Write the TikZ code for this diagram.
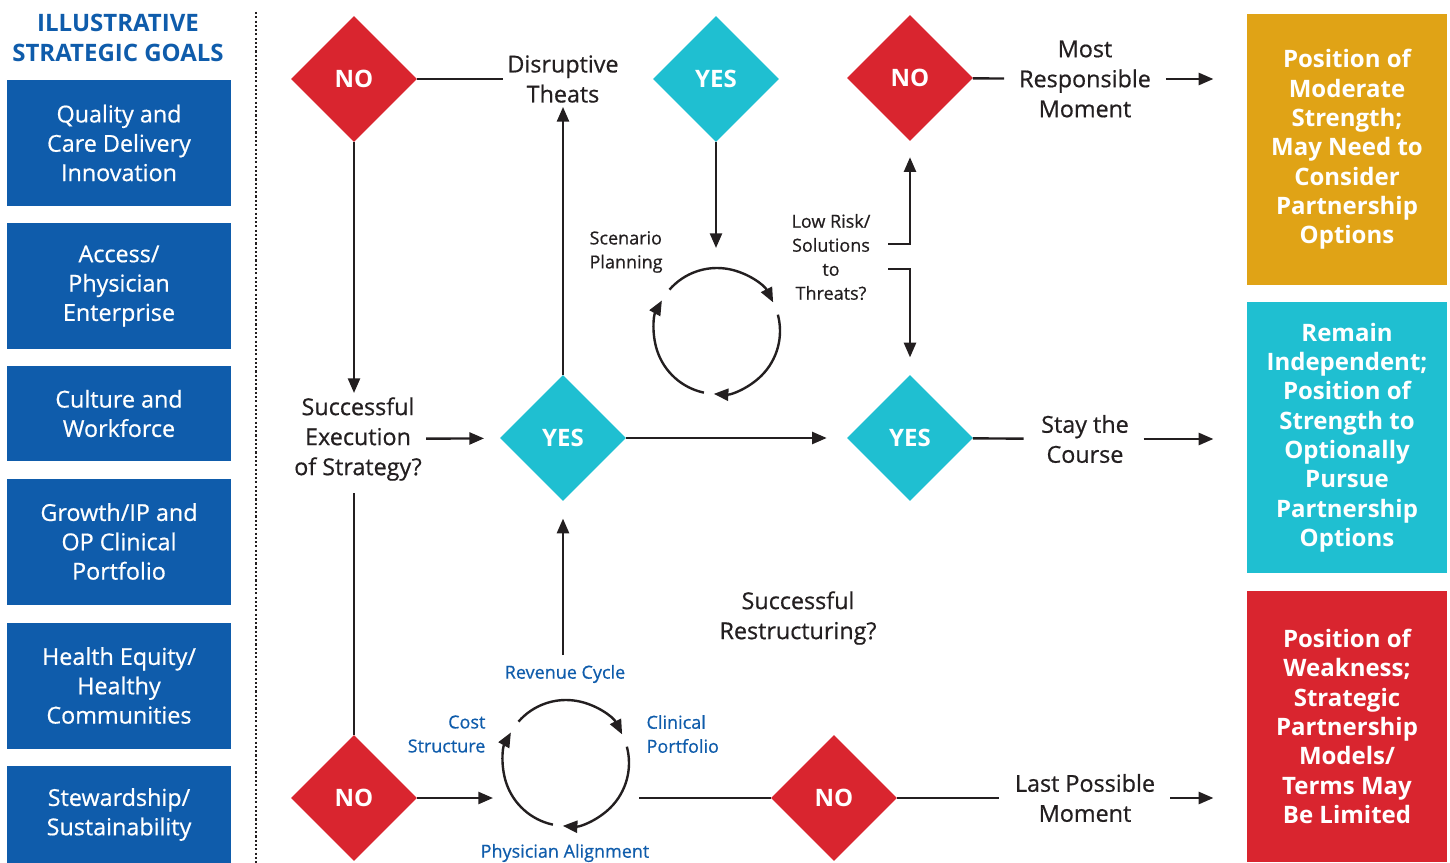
\documentclass[tikz,border=0pt]{standalone}
\usepackage{fontspec}
\setmainfont{Open Sans}[UprightFeatures={FakeBold=0.6}]
\usetikzlibrary{shapes.geometric,arrows.meta,calc}
\definecolor{goalblue}{HTML}{0F5CAB}
\definecolor{noRed}{HTML}{D9252F}
\definecolor{yesCyan}{HTML}{1FBFD1}
\definecolor{modGold}{HTML}{E0A316}
\definecolor{inkgray}{HTML}{231F20}
\tikzset{
  every node/.style={text=inkgray},
  goalhead/.style={text=goalblue, align=center, font=\bfseries\fontsize{18}{22}\selectfont},
  goal/.style={fill=goalblue, text=white, minimum width=168pt, minimum height=94.5pt,
    align=center, inner sep=0pt, font=\fontsize{17.5}{22}\selectfont},
  outcome/.style={text=white, minimum width=150pt, minimum height=203.25pt,
    align=center, inner sep=0pt, font=\bfseries\fontsize{18}{22}\selectfont},
  nobox/.style={diamond, aspect=1, fill=noRed, text=white, minimum width=94.5pt,
    minimum height=94.5pt, inner sep=0pt, font=\bfseries\fontsize{18}{22}\selectfont},
  yesbox/.style={nobox, fill=yesCyan},
  flowtext/.style={align=center, inner sep=3pt, font=\fontsize{17.5}{22.5}\selectfont},
  smalltext/.style={align=center, inner sep=1pt, font=\fontsize{13.5}{18}\selectfont},
  cyclab/.style={smalltext, text=goalblue},
  line/.style={draw=inkgray, line width=1.8pt},
  arrow/.style={line, -{Triangle[length=11pt,width=9pt]}}
}

\begin{document}
\begin{tikzpicture}[x=0.75pt,y=0.75pt]
  \useasboundingbox (0,0) rectangle (1450,-863);

  % strategic goals column
  \node[goalhead] (head) at (118,-38) {ILLUSTRATIVE\\STRATEGIC GOALS};
  \node[goal] (g1) at (119,-143) {Quality and\\Care Delivery\\Innovation};
  \node[goal] (g2) at (119,-286) {Access/\\Physician\\Enterprise};
  \node[goal, minimum height=71.25pt] (g3) at (119,-413.5) {Culture and\\Workforce};
  \node[goal] (g4) at (119,-541.5) {Growth/IP and\\OP Clinical\\Portfolio};
  \node[goal] (g5) at (119,-685.5) {Health Equity/\\Healthy\\Communities};
  \node[goal, minimum height=72.75pt] (g6) at (119,-814.5) {Stewardship/\\Sustainability};
  \draw[inkgray, line width=1.6pt, dash pattern=on 1.6pt off 1.6pt] (256,-12) -- (256,-863);

  % decisions
  \node[nobox]  (no1)  at (354,-79)  {NO};
  \node[yesbox] (yes1) at (716,-79)  {YES};
  \node[nobox]  (no2)  at (910,-78)  {NO};
  \node[yesbox] (yes2) at (563,-438) {YES};
  \node[yesbox] (yes3) at (910,-438) {YES};
  \node[nobox]  (no3)  at (354,-798) {NO};
  \node[nobox]  (no4)  at (834,-798) {NO};

  % flow texts
  \node[flowtext] (disrupt) at (563,-79)   {Disruptive\\Theats};
  \node[flowtext] (most)    at (1085,-79)  {Most\\Responsible\\Moment};
  \node[flowtext] (exec)    at (358,-439)  {Successful\\Execution\\of Strategy?};
  \node[flowtext] (stay)    at (1085,-439) {Stay the\\Course};
  \node[flowtext] (restr)   at (798,-618)  {Successful\\Restructuring?};
  \node[flowtext] (last)    at (1085,-798) {Last Possible\\Moment};
  \node[smalltext, align=left, anchor=west] (scen) at (588,-252) {Scenario\\Planning};
  \node[smalltext] (lowrisk) at (831,-257) {Low Risk/\\Solutions\\to\\Threats?};

  % outcomes
  \node[outcome, fill=modGold] (gold)    at (1347,-149.5) {Position of\\Moderate\\Strength;\\May Need to\\Consider\\Partnership\\Options};
  \node[outcome, fill=yesCyan] (cyanbox) at (1347,-437.5) {Remain\\Independent;\\Position of\\Strength to\\Optionally\\Pursue\\Partnership\\Options};
  \node[outcome, fill=noRed]   (redbox)  at (1347,-726.5) {Position of\\Weakness;\\Strategic\\Partnership\\Models/\\Terms May\\Be Limited};

  % cycles
  \coordinate (cyc1) at (717,-331);
  \coordinate (cyc2) at (566,-763);
  \foreach \c in {cyc1,cyc2}
    \foreach \a/\b in {139/27, 15/-93, 258/151}
      \draw[arrow] ([shift={(\a:63)}]\c) arc[start angle=\a, end angle=\b, radius=63];
  \node[cyclab] (rev)  at (565,-674) {Revenue Cycle};
  \node[cyclab, align=right, anchor=east] (cost) at (487,-734) {Cost\\Structure};
  \node[cyclab, align=left, anchor=west]  (clin) at (645,-734) {Clinical\\Portfolio};
  \node[cyclab] (phys) at (565,-853) {Physician Alignment};

  \coordinate (scentop) at (716,-248);
  \coordinate (lrup)    at (888,-244);
  \coordinate (lrdown)  at (888,-269);
  \coordinate (cycin)   at (493,-798);
  \coordinate (cycout)  at (639,-798);
  \coordinate (cyctop)  at (563,-655);

  % connectors
  \draw[line]  (no1) -- (disrupt);
  \draw[arrow] (no1.south) -- (no1 |- exec.north);
  \draw[line]  (no1 |- 0,-493) -- (no3.north);
  \draw[arrow, shorten >=12pt] (exec) -- (yes2);
  \draw[arrow] (yes2.north) -- (disrupt.south);
  \draw[arrow] (yes1.south) -- (scentop);
  \draw[arrow, shorten >=12pt] (lrup) -| (no2.south);
  \draw[arrow, shorten >=13pt] (lrdown) -| (yes3.north);
  \draw[arrow, shorten >=15pt] (yes2) -- (yes3);
  \draw[line, shorten >=10pt]  (yes3) -- (stay);
  \draw[arrow, shorten <=8pt, shorten >=25pt] (stay.east) -- (stay.east -| cyanbox.west);
  \draw[line, shorten >=8pt]  (no2) -- (most);
  \draw[arrow, shorten <=8pt, shorten >=25pt] (most.east) -- (most.east -| gold.west);
  \draw[arrow] (no3) -- (cycin);
  \draw[line]  (cycout) -- (no4);
  \draw[arrow, shorten >=13pt] (cyctop) -- (yes2.south);
  \draw[line, shorten >=9pt]  (no4) -- (last);
  \draw[arrow, shorten <=8pt, shorten >=25pt] (last.east) -- (last.east -| redbox.west);
\end{tikzpicture}
\end{document}
